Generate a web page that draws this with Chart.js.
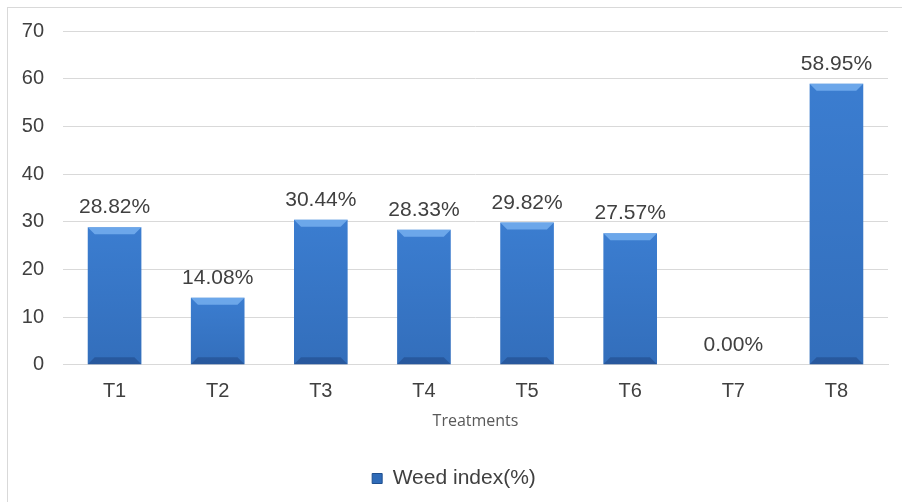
<!DOCTYPE html>
<html>
<head>
  <title>Weed index chart</title>
  <script src="https://cdn.jsdelivr.net/npm/chart.js"></script>
  <style>
    body { margin: 0; background: #fff; overflow: hidden; }
    #wrap { position: absolute; left: 7px; top: 7px; width: 1000px; height: 600px; border: 1px solid #d9d9d9; }
    #box { position: absolute; left: 0; top: 0; width: 902px; height: 502px; }
  </style>
</head>
<body>
  <div id="wrap"></div>
  <div id="box"><canvas id="weedChart"></canvas></div>

  <script>
    // chart values
    const treatments = ['T1', 'T2', 'T3', 'T4', 'T5', 'T6', 'T7', 'T8'];
    const weedIndex = [28.82, 14.08, 30.44, 28.33, 29.82, 27.57, 0.00, 58.95];
    const yTicks = [0, 10, 20, 30, 40, 50, 60, 70];

    const FONT = '"Liberation Sans", Arial, sans-serif';

    // horizontal gradient so the bars look bevelled like the original
    function barFill(context) {
      const el = context.element;
      const chart = context.chart;
      if (!el || !chart.chartArea || !Number.isFinite(el.x) || !Number.isFinite(el.width)) return '#3b7dd0';
      const half = el.width / 2 || 26;
      const g = chart.ctx.createLinearGradient(el.x - half, 0, el.x + half, 0);
      g.addColorStop(0, '#2a5c9e');
      g.addColorStop(0.1, '#3676c6');
      g.addColorStop(0.5, '#3f83d8');
      g.addColorStop(0.9, '#3676c6');
      g.addColorStop(1, '#234d88');
      return g;
    }

    // bevel edges and a slight darkening towards the base
    const bevel = {
      id: 'bevel',
      afterDatasetsDraw(chart) {
        const ctx = chart.ctx;
        chart.getDatasetMeta(0).data.forEach(bar => {
          const h = bar.base - bar.y;
          if (h < 2) return;
          const l = bar.x - bar.width / 2, r = bar.x + bar.width / 2;
          const d = Math.min(7, h / 2);
          ctx.save();
          const v = ctx.createLinearGradient(0, bar.y, 0, bar.base);
          v.addColorStop(0, 'rgba(0,20,60,0)');
          v.addColorStop(1, 'rgba(0,20,60,0.14)');
          ctx.fillStyle = v;
          ctx.fillRect(l, bar.y, r - l, h);
          ctx.fillStyle = 'rgba(130,185,245,0.7)';
          ctx.beginPath();
          ctx.moveTo(l, bar.y);
          ctx.lineTo(r, bar.y);
          ctx.lineTo(r - d, bar.y + d);
          ctx.lineTo(l + d, bar.y + d);
          ctx.closePath();
          ctx.fill();
          ctx.fillStyle = 'rgba(15,40,90,0.3)';
          ctx.beginPath();
          ctx.moveTo(l, bar.base);
          ctx.lineTo(r, bar.base);
          ctx.lineTo(r - d, bar.base - d);
          ctx.lineTo(l + d, bar.base - d);
          ctx.closePath();
          ctx.fill();
          ctx.restore();
        });
      }
    };

    // percentage labels above the bars
    const valueLabels = {
      id: 'valueLabels',
      afterDatasetsDraw(chart) {
        const ctx = chart.ctx;
        const ds = chart.data.datasets[0];
        ctx.save();
        ctx.font = '21px ' + FONT;
        ctx.fillStyle = '#404040';
        ctx.textAlign = 'center';
        ctx.textBaseline = 'alphabetic';
        chart.getDatasetMeta(0).data.forEach((bar, i) => {
          ctx.fillText(ds.data[i].toFixed(2) + '%', bar.x, bar.y - 14);
        });
        ctx.restore();
      }
    };

    const ctx = document.getElementById('weedChart').getContext('2d');
    new Chart(ctx, {
      type: 'bar',
      data: {
        labels: treatments,
        datasets: [{
          label: 'Weed index(%)',
          data: weedIndex,
          backgroundColor: barFill,
          borderWidth: 0,
          barPercentage: 0.52,
          categoryPercentage: 1
        }]
      },
      options: {
        responsive: true,
        maintainAspectRatio: false,
        animation: false,
        layout: { padding: { left: 20, right: 14, top: 22, bottom: 3 } },
        plugins: {
          tooltip: { enabled: false },
          legend: {
            position: 'bottom',
            labels: {
              boxWidth: 10,
              boxHeight: 10,
              padding: 4,
              color: '#404040',
              font: { family: FONT, size: 21 },
              generateLabels() {
                return [{ text: 'Weed index(%)', fillStyle: '#2f6bb8', strokeStyle: '#1f4f8f', lineWidth: 1, fontColor: '#404040' }];
              }
            }
          }
        },
        scales: {
          x: {
            grid: { display: false },
            border: { color: '#d9d9d9' },
            ticks: {
              color: '#404040',
              padding: 7,
              font: { family: FONT, size: 20 }
            },
            title: {
              display: true,
              text: 'Treatments',
              color: '#595959',
              padding: { top: 1, bottom: 33 },
              font: { family: '"Open Sans", "DejaVu Sans", sans-serif', size: 16 }
            }
          },
          y: {
            min: 0,
            max: 70,
            afterBuildTicks(axis) { axis.ticks = yTicks.map(v => ({ value: v })); },
            afterFit(axis) { axis.width = 43; },
            grid: { color: '#d9d9d9', drawTicks: false },
            border: { display: false },
            ticks: {
              color: '#404040',
              padding: 19,
              font: { family: FONT, size: 20 }
            }
          }
        }
      },
      plugins: [bevel, valueLabels]
    });
  </script>
</body>
</html>
